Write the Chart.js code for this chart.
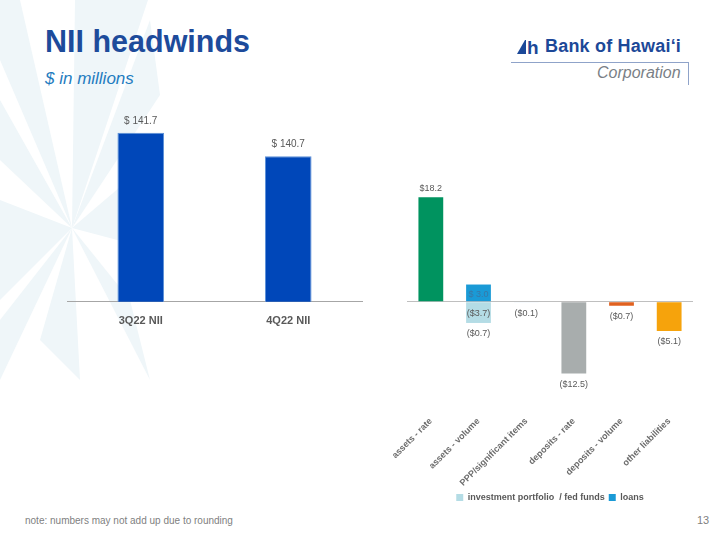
<!DOCTYPE html>
<html>
<head>
<meta charset="utf-8">
<script src="https://cdn.jsdelivr.net/npm/chart.js@4/dist/chart.umd.min.js"></script>
<style>
  html, body { margin: 0; padding: 0; background: #fff; }
  #slide { position: relative; width: 720px; height: 540px; overflow: hidden; background: #fff; font-family: "Liberation Sans", Arial, sans-serif; }
  #bg { position: absolute; left: 0; top: 0; }
  .abs { position: absolute; white-space: nowrap; }
  #title { left: 45px; top: 24px; font-size: 30.5px; font-weight: bold; color: #1d4b9b; }
  #subtitle { left: 45px; top: 69px; font-size: 17px; font-style: italic; color: #1f7cc0; }
  #bank { left: 545px; top: 36px; font-size: 18px; font-weight: bold; color: #1c4898; letter-spacing: 0.2px; }
  #corp { left: 597px; top: 64px; font-size: 16px; font-style: italic; color: #7a7f86; }
  #note { left: 25px; top: 515px; font-size: 10px; color: #7f7f7f; }
  #page { left: 697px; top: 514px; font-size: 11px; color: #7f7f7f; }
  #leftCanvas { position: absolute; left: 0; top: 100px; }
  #rightCanvas { position: absolute; left: 380px; top: 160px; }
</style>
</head>
<body>
<div id="slide">
  <svg id="bg" width="720" height="540">
    <g fill="#eff6f9">
      <polygon points="72,228 20,0 0,0 0,60"/>
      <polygon points="72,228 75,0 148,0"/>
      <polygon points="72,228 150,20 160,95"/>
      <polygon points="72,228 0,100 0,160"/>
      <polygon points="72,228 0,200 0,300"/>
      <polygon points="72,228 140,170 155,250"/>
      <polygon points="72,228 130,300 150,380"/>
      <polygon points="72,228 40,340 80,380"/>
      <polygon points="72,228 0,320 0,380"/>
    </g>
    <line x1="511" y1="62.5" x2="688" y2="62.5" stroke="#8fa3c9" stroke-width="1"/>
    <line x1="688.5" y1="62" x2="688.5" y2="85" stroke="#8fa3c9" stroke-width="1"/>
    <polygon points="517,54 525,40 526,40 526,54" fill="#1c4898"/>
    <text x="527" y="54" font-family="Liberation Sans, Arial" font-weight="bold" font-size="19" fill="#1c4898">h</text>
  </svg>
  <div id="title" class="abs">NII headwinds</div>
  <div id="subtitle" class="abs">$ in millions</div>
  <div id="bank" class="abs">Bank of Hawaiʻi</div>
  <div id="corp" class="abs">Corporation</div>
  <div id="note" class="abs">note: numbers may not add up due to rounding</div>
  <div id="page" class="abs">13</div>
  <canvas id="leftCanvas" width="370" height="245"></canvas>
  <canvas id="rightCanvas" width="340" height="352"></canvas>
</div>
<script>
// ---- data ----
const leftCategories = ['3Q22 NII', '4Q22 NII'];
const leftValues = [141.7, 140.7];

const rightCategories = ['assets - rate', 'assets - volume', 'PPP/significant items', 'deposits - rate', 'deposits - volume', 'other liabilities'];
const driverValues = [18.2, null, -0.1, -12.5, -0.7, -5.1];
const investmentValues = [null, -3.7, null, null, null, null];
const loanValues = [null, 3.0, null, null, null, null];
const totalValues = [null, -0.7, null, null, null, null];
const driverColors = ['#00935f', '#1a9ad6', '#9fc4e6', '#a8adad', '#e0611f', '#f6a30c'];

const FONT = '"Liberation Sans", Arial, sans-serif';
const fmtRight = v => v < 0 ? '($' + Math.abs(v).toFixed(1) + ')' : '$' + v.toFixed(1);

// ---- left chart ----
const leftLabelPlugin = {
  id: 'leftLabels',
  afterDatasetsDraw(chart) {
    const ctx = chart.ctx;
    const meta = chart.getDatasetMeta(0);
    ctx.save();
    ctx.font = '10px ' + FONT;
    ctx.fillStyle = '#595959';
    ctx.textAlign = 'center';
    ctx.textBaseline = 'middle';
    meta.data.forEach((bar, i) => {
      ctx.fillText('$ ' + leftValues[i].toFixed(1), bar.x, bar.y - 12);
    });
    ctx.restore();
  }
};

new Chart(document.getElementById('leftCanvas'), {
  type: 'bar',
  data: {
    labels: leftCategories,
    datasets: [{
      data: leftValues,
      backgroundColor: '#0047b9',
      borderColor: '#5c90d8',
      borderWidth: 1,
      categoryPercentage: 1,
      barPercentage: 0.316
    }]
  },
  options: {
    responsive: false,
    animation: false,
    layout: { padding: { left: 67, right: 8, top: 14, bottom: 12 } },
    plugins: { legend: { display: false }, tooltip: { enabled: false } },
    scales: {
      y: { display: false, min: 134.5, max: 142.5 },
      x: {
        grid: { display: false },
        border: { color: '#a6a6a6', width: 1 },
        ticks: { font: { family: FONT, size: 11, weight: 'bold' }, color: '#595959', padding: 5 }
      }
    }
  },
  plugins: [leftLabelPlugin]
});

// ---- right chart ----
const rightLabelPlugin = {
  id: 'rightLabels',
  afterDatasetsDraw(chart) {
    const ctx = chart.ctx;
    ctx.save();
    ctx.font = '9px ' + FONT;
    ctx.textAlign = 'center';
    ctx.textBaseline = 'middle';
    const m0 = chart.getDatasetMeta(0);
    m0.data.forEach((bar, i) => {
      const v = driverValues[i];
      if (v === null) return;
      ctx.fillStyle = '#595959';
      if (v >= 0) ctx.fillText(fmtRight(v), bar.x, bar.y - 9);
      else ctx.fillText(fmtRight(v), bar.x, Math.max(bar.y, bar.base) + 11);
    });
    const m1 = chart.getDatasetMeta(1);
    m1.data.forEach((bar, i) => {
      const v = investmentValues[i];
      if (v === null) return;
      ctx.fillStyle = '#595959';
      ctx.fillText(fmtRight(v), bar.x, (bar.y + bar.base) / 2 + 1);
      const t = totalValues[i];
      if (t !== null) ctx.fillText(fmtRight(t), bar.x, Math.max(bar.y, bar.base) + 11);
    });
    const m2 = chart.getDatasetMeta(2);
    m2.data.forEach((bar, i) => {
      const v = loanValues[i];
      if (v === null) return;
      ctx.fillStyle = '#3a78a6';
      ctx.fillText('$ ' + v.toFixed(1), bar.x, (bar.y + bar.base) / 2 + 2);
    });
    ctx.restore();
  }
};

new Chart(document.getElementById('rightCanvas'), {
  type: 'bar',
  data: {
    labels: rightCategories,
    datasets: [
      { label: 'drivers', data: driverValues, backgroundColor: driverColors, categoryPercentage: 1, barPercentage: 0.52 },
      { label: 'investment portfolio  / fed funds', data: investmentValues, backgroundColor: '#b4dce5', categoryPercentage: 1, barPercentage: 0.52 },
      { label: 'loans', data: loanValues, backgroundColor: '#1a9ad6', categoryPercentage: 1, barPercentage: 0.52 }
    ]
  },
  options: {
    responsive: false,
    animation: false,
    layout: { padding: { left: 27, right: 27, top: 27, bottom: 0 } },
    plugins: {
      tooltip: { enabled: false },
      legend: {
        position: 'bottom',
        labels: {
          filter: item => item.datasetIndex !== 0,
          boxWidth: 7, boxHeight: 7, padding: 4,
          font: { family: FONT, size: 9, weight: 'bold' }, color: '#595959'
        }
      }
    },
    scales: {
      y: {
        stacked: true, min: -18, max: 20,
        border: { display: false },
        ticks: { display: false, stepSize: 2 },
        grid: { drawTicks: false, color: c => c.tick && c.tick.value === 0 ? '#bfbfbf' : 'rgba(0,0,0,0)', lineWidth: 1 }
      },
      x: {
        stacked: true,
        grid: { display: false },
        border: { display: false },
        afterFit: scale => { scale.height = 84; },
        ticks: { minRotation: 45, maxRotation: 45, padding: 3, autoSkip: false,
                 font: { family: FONT, size: 9, weight: 'bold' }, color: '#6b6b6b' }
      }
    }
  },
  plugins: [rightLabelPlugin]
});
</script>
</body>
</html>
